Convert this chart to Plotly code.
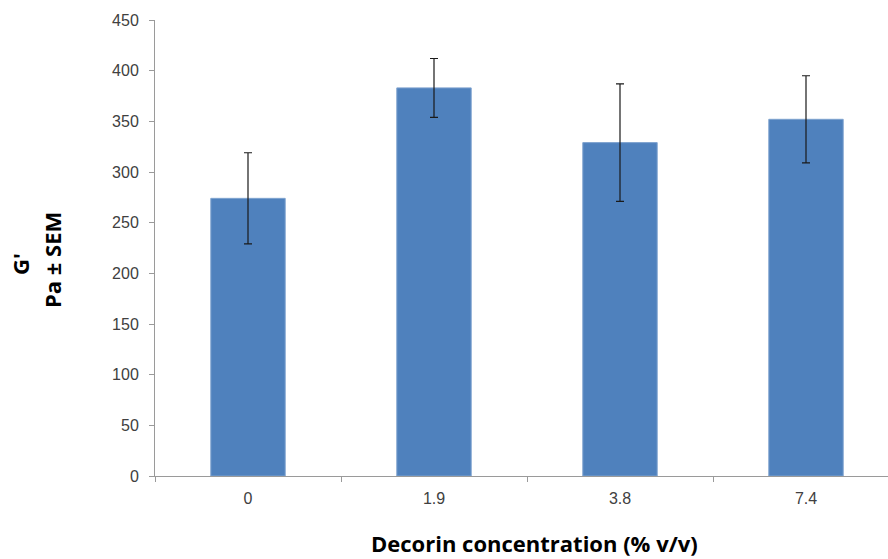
import plotly.graph_objects as go

# Storage modulus G' by decorin concentration
concentrations = ["0", "1.9", "3.8", "7.4"]
g_prime = [274, 383, 329, 352]
sem = [45, 29, 58, 43]
y_ticks = [0, 50, 100, 150, 200, 250, 300, 350, 400, 450]

W, H = 888, 559
ml, mr, mt, mb = 155, 0, 20, 83
cat_px = 186  # pixel width of one category slot
plot_w = W - ml - mr
plot_h = H - mt - mb


def px_x(x):
    return (x - ml) / plot_w


def px_y(y):
    return (H - mb - y) / plot_h


fig = go.Figure()
fig.add_trace(go.Bar(
    x=concentrations,
    y=g_prime,
    width=0.4,
    marker=dict(color="#4F81BD", line=dict(color="#7FA3CF", width=1)),
    error_y=dict(type="data", array=sem, visible=True,
                 color="#1a1a1a", thickness=1.2, width=4),
))

axis_grey = "#9a9a9a"
tick_font = dict(family="Liberation Sans", size=16, color="#404040")
fig.update_layout(
    width=W, height=H,
    margin=dict(l=ml, r=mr, t=mt, b=mb),
    plot_bgcolor="white", paper_bgcolor="white",
    showlegend=False,
    font=tick_font,
    xaxis=dict(
        type="category",
        range=[-0.5, -0.5 + plot_w / cat_px],
        showline=True, linecolor=axis_grey, linewidth=1,
        ticks="outside", tickson="boundaries", ticklen=5, tickcolor=axis_grey,
        showgrid=False, zeroline=False,
        tickfont=tick_font,
        ticklabelstandoff=8,
    ),
    yaxis=dict(
        range=[0, 450],
        tickvals=y_ticks,
        showline=True, linecolor=axis_grey, linewidth=1,
        ticks="outside", ticklen=5, tickcolor=axis_grey,
        showgrid=False, zeroline=False,
        tickfont=tick_font,
        ticklabelstandoff=7,
    ),
)

# Axis titles
title_font = dict(family="Open Sans", size=22, color="black", weight="bold")
fig.add_annotation(
    text="G'", xref="paper", yref="paper",
    x=px_x(20), y=px_y(264), xanchor="center", yanchor="middle",
    textangle=-90, showarrow=False, font=title_font,
)
fig.add_annotation(
    text="Pa ± SEM", xref="paper", yref="paper",
    x=px_x(52), y=px_y(260), xanchor="center", yanchor="middle",
    textangle=-90, showarrow=False, font=title_font,
)
fig.add_annotation(
    text="Decorin concentration (% v/v)", xref="paper", yref="paper",
    x=px_x(534), y=px_y(543), xanchor="center", yanchor="middle",
    showarrow=False, font=title_font, borderpad=0,
)

fig.write_html("out.html")
